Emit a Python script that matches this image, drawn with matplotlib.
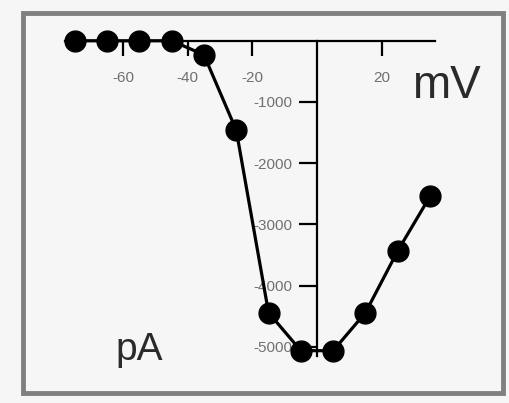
import matplotlib
matplotlib.use("Agg")
import matplotlib.pyplot as plt
from matplotlib.patches import Rectangle

voltage_mV = [-75, -65, -55, -45, -35, -25, -15, -5, 5, 15, 25, 35]
current_pA = [0, 0, 0, 0, -230, -1460, -4440, -5060, -5060, -4440, -3430, -2540]
xtick_vals = [-60, -40, -20, 20]
xtick_labels = ["-60", "-40", "-20", "20"]
ytick_vals = [-1000, -2000, -3000, -4000, -5000]
ytick_labels = ["-1000", "-2000", "-3000", "-4000", "-5000"]

W, H = 510, 403
fig = plt.figure(figsize=(W / 100, H / 100), dpi=100)
fig.patch.set_facecolor("#f6f6f6")
ax = fig.add_axes([0, 0, 1, 1])
ax.set_facecolor("none")

# pixel mapping: x_px = 317 + 3.23*mV ; y_px(from top) = 40.75 + 0.06125*(-pA)
x0px, xs = 317.0, 3.23
y0px, ys = 40.75, 0.06125
ax.set_xlim(-x0px / xs, (W - x0px) / xs)
ax.set_ylim(-(H - y0px) / ys, y0px / ys)

for s in ["top", "right"]:
    ax.spines[s].set_visible(False)
ax.spines["left"].set_position(("data", 0))
ax.spines["bottom"].set_position(("data", 0))
ax.spines["left"].set_bounds(-5150, 0)
ax.spines["bottom"].set_bounds(-78, 36.5)
ax.spines["left"].set_linewidth(1.6)
ax.spines["bottom"].set_linewidth(1.6)

ax.set_xticks(xtick_vals)
ax.set_xticklabels(xtick_labels, family="Liberation Sans", fontsize=11, color="#707070")
ax.set_yticks(ytick_vals)
ax.set_yticklabels(ytick_labels, family="Liberation Sans", fontsize=11, color="#707070")
ax.tick_params(axis="x", direction="out", length=11, width=1.6, pad=11)
ax.tick_params(axis="y", direction="out", length=13, width=1.6, pad=5)

ax.plot(voltage_mV, current_pA, color="black", lw=2.3, marker="o", ms=15,
        markerfacecolor="black", markeredgecolor="black", zorder=5, clip_on=False)

ax.text(40.2, -740, "mV", family="Liberation Sans", fontsize=33, ha="center", va="center", color="#2a2a2a")
ax.text(-55, -5050, "pA", family="Liberation Sans", fontsize=28, ha="center", va="center", color="#2a2a2a")

fig.patches.append(Rectangle((23 / W, 1 - 393 / H), 480 / W, 380 / H, transform=fig.transFigure,
                             fill=False, edgecolor="#808080", lw=3.5))

fig.savefig("out.png", dpi=100, facecolor=fig.get_facecolor())
